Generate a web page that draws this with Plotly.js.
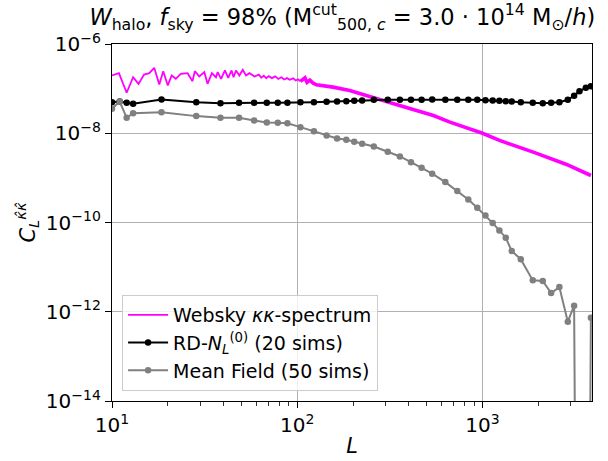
<!DOCTYPE html>
<html>
<head>
<meta charset="utf-8">
<script src="https://cdn.plot.ly/plotly-3.0.1.min.js"></script>
<style>html,body{margin:0;padding:0;background:#fff;}#chart{width:608px;height:461px;}</style>
</head>
<body>
<div id="chart"></div>
<script>
// Websky kappa-kappa spectrum
const wsL = [10, 10.9, 12, 13, 13.9, 14.9, 15.9, 16.9, 18, 18.9, 20, 21, 22.1, 23.5, 25.6, 27.2, 28, 29.6, 31.5, 32.8,
  34.6, 36.4, 37.2, 38.8, 40.7, 42.4, 44.2, 45.3, 46.7, 48.7, 50.8, 52.9, 55.2, 58.8, 62, 64, 66, 68, 70, 73,
  76, 79, 82, 85, 88, 91, 95, 98, 101, 104, 108, 110, 113, 117, 122, 127, 156, 192, 236, 268,
  357, 543, 667, 1000, 1236, 1880, 2845, 3846];
const wsC = [1.97e-7, 2.22e-7, 8.07e-8, 1.80e-7, 1.28e-7, 2.07e-7, 2.22e-7, 2.93e-7, 1.24e-7, 2.46e-7,
  1.18e-7, 1.97e-7, 1.66e-7, 2.15e-7, 2.22e-7, 1.47e-7, 2.46e-7, 1.87e-7, 2.34e-7, 1.28e-7,
  2.22e-7, 1.80e-7, 2.34e-7, 1.66e-7, 2.55e-7, 1.75e-7, 2.55e-7, 1.80e-7, 2.55e-7, 1.97e-7,
  2.64e-7, 1.97e-7, 2.22e-7, 1.87e-7, 2.05e-7, 1.75e-7, 1.95e-7, 1.70e-7, 1.90e-7, 1.72e-7,
  1.88e-7, 1.65e-7, 1.80e-7, 1.60e-7, 1.72e-7, 1.58e-7, 1.70e-7, 1.52e-7, 1.62e-7, 1.45e-7,
  1.62e-7, 1.75e-7, 1.38e-7, 1.55e-7, 1.32e-7, 1.22e-7, 1.08e-7, 9.1e-8, 7.03e-8, 5.93e-8,
  4.2e-8, 2.5e-8, 1.77e-8, 1.0e-8, 6.9e-9, 3.78e-9, 2.0e-9, 1.13e-9];

// Binned L centres shared by RD-N0 and mean field
const binL = [10, 11, 12, 13, 18.5, 28.5, 38.5, 48.5, 58.5, 68.5, 78.5, 88.5,
  104, 123, 144, 164, 184, 203, 224, 259, 308, 358, 411, 469, 535,
  630, 731, 838, 937, 1037, 1135, 1233, 1335, 1438, 1609, 1868, 2115, 2346, 2600, 2887, 3123, 3337, 3613, 3846];
const rdN0 = [4.97e-8, 5.15e-8, 4.82e-8, 4.6e-8, 5.7e-8, 4.97e-8, 4.72e-8, 4.82e-8, 4.82e-8, 4.82e-8, 4.82e-8, 4.82e-8,
  4.97e-8, 4.97e-8, 5.05e-8, 5.15e-8, 5.24e-8, 5.33e-8, 5.43e-8, 5.62e-8, 5.62e-8, 5.62e-8, 5.62e-8, 5.62e-8, 5.73e-8,
  5.62e-8, 5.62e-8, 5.62e-8, 5.62e-8, 5.5e-8, 5.43e-8, 5.33e-8, 5.24e-8, 5.15e-8, 4.97e-8, 4.82e-8, 4.72e-8, 4.82e-8,
  4.97e-8, 5.62e-8, 6.92e-8, 8.77e-8, 1.04e-7, 1.13e-7];
// 1e-30 stands for non-positive bins (drawn dropping off the log axis)
const meanField = [3.54e-8, 5.15e-8, 2.22e-8, 2.82e-8, 2.97e-8, 2.42e-8, 2.22e-8, 2.22e-8, 1.94e-8, 1.75e-8, 1.72e-8, 1.68e-8,
  1.37e-8, 1.11e-8, 8.93e-9, 7.66e-9, 7.14e-9, 6.46e-9, 5.82e-9, 5.06e-9, 3.85e-9, 3.02e-9, 2.25e-9, 1.69e-9, 1.24e-9,
  8.04e-10, 5.05e-10, 3.29e-10, 2.14e-10, 1.44e-10, 9.7e-11, 6.65e-11, 4.57e-11, 2.29e-11, 1.51e-11, 5.05e-12, 4.88e-12,
  2.62e-12, 3.57e-12, 6.0e-13, 1.37e-12, 1e-30, 1e-30, 7.38e-13];

const seriesNames = ['Websky <i>κκ</i>-spectrum', 'RD-<i>N</i><sub><i>L</i></sub><sup>(0)</sup> (20 sims)', 'Mean Field (50 sims)'];
const xTickVals = [10, 100, 1000];
const xTickText = ['10<sup>1</sup>', '10<sup>2</sup>', '10<sup>3</sup>'];
const xMinorVals = [20, 30, 40, 50, 60, 70, 80, 90, 200, 300, 400, 500, 600, 700, 800, 900, 2000, 3000];
const yTickVals = [1e-14, 1e-12, 1e-10, 1e-8, 1e-6];
const yTickText = ['10<sup>−14</sup>', '10<sup>−12</sup>', '10<sup>−10</sup>', '10<sup>−8</sup>', '10<sup>−6</sup>'];

const FONT = 'DejaVu Sans, Liberation Sans, sans-serif';
const split = wsL.findIndex(l => l >= 104);

const traces = [
  {x: wsL.slice(0, split + 1), y: wsC.slice(0, split + 1), mode: 'lines', name: seriesNames[0],
   line: {color: '#ff00ff', width: 1.8}, legendgroup: 'ws'},
  {x: wsL.slice(split), y: wsC.slice(split), mode: 'lines', name: seriesNames[0], showlegend: false,
   line: {color: '#ff00ff', width: 3.6}, legendgroup: 'ws'},
  {x: binL, y: rdN0, mode: 'lines+markers', name: seriesNames[1],
   line: {color: '#000000', width: 2}, marker: {color: '#000000', size: 6.5}},
  {x: binL, y: meanField, mode: 'lines+markers', name: seriesNames[2],
   line: {color: '#808080', width: 2}, marker: {color: '#808080', size: 6.5}}
];

const axisCommon = {
  type: 'log', showline: true, mirror: true, linecolor: '#000', linewidth: 1.2,
  ticks: 'outside', ticklen: 6, tickwidth: 1, tickcolor: '#000',
  showgrid: true, gridcolor: '#b0b0b0', gridwidth: 1, zeroline: false,
  tickfont: {family: FONT, size: 20, color: '#000'}, tickmode: 'array'
};

const layout = {
  width: 608, height: 461,
  margin: {l: 112, r: 16, t: 44, b: 60},
  paper_bgcolor: '#fff', plot_bgcolor: '#fff',
  font: {family: FONT, color: '#000'},
  title: {
    text: '<i>W</i><sub>halo</sub>, <i>f</i><sub>sky</sub> = 98% (M<sup>cut</sup><sub>500, <i>c</i></sub> = 3.0 · 10<sup>14</sup> M<sub>⊙</sub>/<i>h</i>)',
    font: {family: FONT, size: 22.5, color: '#000'},
    x: 0.563, xanchor: 'center', y: 0.963, yanchor: 'middle'
  },
  xaxis: Object.assign({}, axisCommon, {
    range: [1, Math.log10(3900)], tickvals: xTickVals, ticktext: xTickText,
    minor: {tickmode: 'array', tickvals: xMinorVals, ticks: 'outside', ticklen: 3.5, tickwidth: 0.8, tickcolor: '#000', showgrid: false},
    title: {text: '<i>L</i>', font: {family: FONT, size: 21, color: '#000'}, standoff: 2}
  }),
  yaxis: Object.assign({}, axisCommon, {
    range: [-14, -6], tickvals: yTickVals, ticktext: yTickText,
    title: {text: '<i>C</i><sub><i>L</i></sub><sup><i>κ̂κ̂</i></sup>', font: {family: FONT, size: 21, color: '#000'}, standoff: 4}
  }),
  legend: {
    x: 0.021, y: 0.028, xanchor: 'left', yanchor: 'bottom',
    bgcolor: 'rgba(255,255,255,0.8)', bordercolor: '#cccccc', borderwidth: 1,
    font: {family: FONT, size: 19, color: '#000'}, tracegroupgap: 0, itemwidth: 40
  },
  showlegend: true
};

Plotly.newPlot('chart', traces, layout, {staticPlot: true, displayModeBar: false});
</script>
</body>
</html>
